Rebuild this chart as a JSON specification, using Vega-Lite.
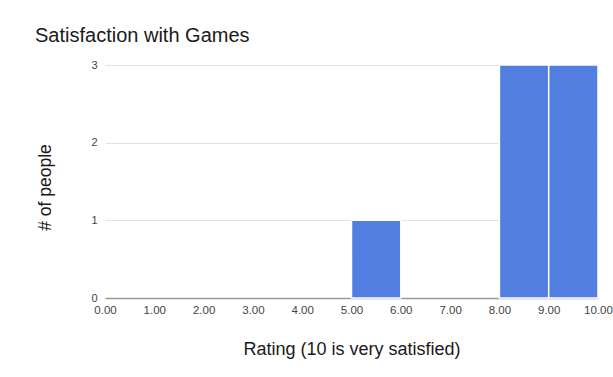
{
  "$schema": "https://vega.github.io/schema/vega-lite/v6.json",
  "autosize": "none",
  "width": 493,
  "height": 233,
  "padding": {"left": 105, "top": 65, "right": 15, "bottom": 79},
  "background": "white",
  "title": {
    "text": "Satisfaction with Games",
    "anchor": "start",
    "frame": "group",
    "dx": -70,
    "offset": 13,
    "font": "Liberation Sans",
    "fontSize": 20,
    "fontWeight": "normal",
    "color": "#1a1a1a"
  },
  "data": {
    "values": [
      {"bin_start": 5, "bin_end": 6, "people": 1},
      {"bin_start": 8, "bin_end": 9, "people": 3},
      {"bin_start": 9, "bin_end": 10, "people": 3}
    ]
  },
  "mark": {"type": "bar", "color": "#517ee0", "stroke": "white", "strokeWidth": 1.5},
  "encoding": {
    "x": {
      "field": "bin_start",
      "type": "quantitative",
      "scale": {"domain": [0, 10], "nice": false},
      "axis": {
        "title": "Rating (10 is very satisfied)",
        "values": [0, 1, 2, 3, 4, 5, 6, 7, 8, 9, 10],
        "format": ".2f",
        "grid": false,
        "ticks": false,
        "domain": true,
        "domainColor": "#9a9a9a",
        "domainWidth": 1.5,
        "labelFont": "Liberation Sans",
        "labelFontSize": 11.5,
        "labelColor": "#444444",
        "labelPadding": 6,
        "labelFlush": false,
        "labelOverlap": false,
        "titleFont": "Liberation Sans",
        "titleFontSize": 18,
        "titleFontWeight": "normal",
        "titleColor": "#1a1a1a",
        "titlePadding": 25
      }
    },
    "x2": {"field": "bin_end"},
    "y": {
      "field": "people",
      "type": "quantitative",
      "scale": {"domain": [0, 3], "nice": false},
      "axis": {
        "title": "# of people",
        "values": [0, 1, 2, 3],
        "format": "d",
        "grid": true,
        "gridColor": "#e2e2e2",
        "ticks": false,
        "domain": false,
        "labelFont": "Liberation Sans",
        "labelFontSize": 11,
        "labelColor": "#444444",
        "labelPadding": 8,
        "titleFont": "Liberation Sans",
        "titleFontSize": 17.5,
        "titleFontWeight": "normal",
        "titleColor": "#1a1a1a",
        "titlePadding": 36,
        "titleY": 122
      }
    },
    "y2": {"datum": 0}
  },
  "config": {"view": {"stroke": null}}
}
